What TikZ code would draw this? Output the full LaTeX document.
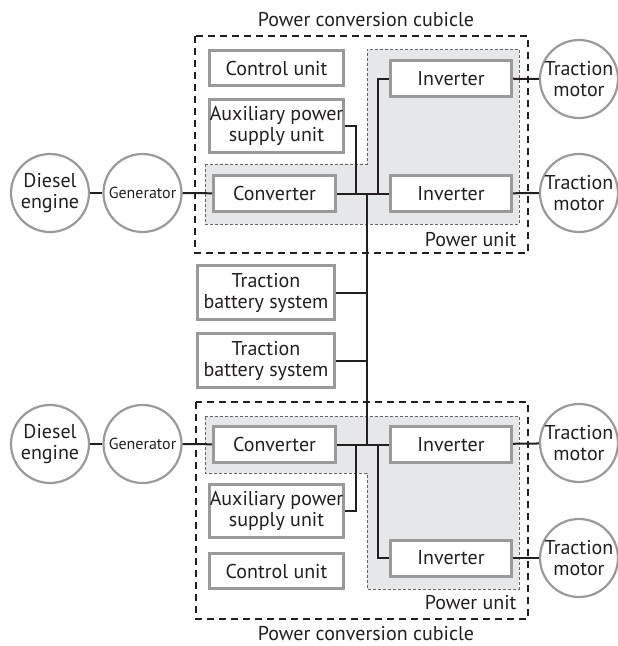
\documentclass[tikz,border=0pt]{standalone}
\usepackage{fontspec}
\setmainfont{PT Sans}
\usetikzlibrary{positioning, calc}

\definecolor{boxgray}{HTML}{9A9A9A}
\definecolor{puFill}{HTML}{E6E7E8}
\definecolor{inkblack}{HTML}{231F20}

\begin{document}
\begin{tikzpicture}[
			x=1pt, y=-1pt,
			font=\fontsize{20}{23}\selectfont,
			text=inkblack,
			% Define styles for the blocks
			unit/.style={
				draw=boxgray,
				fill=white,
				line width=3pt,
				minimum width=122pt,
				minimum height=36pt,
				inner sep=0pt,
				align=center
			},
			wideunit/.style={
				unit,
				minimum width=134pt
			},
			machine/.style={
				circle,
				draw=boxgray,
				fill=white,
				line width=2.2pt,
				minimum size=78pt,
				inner sep=0pt,
				align=center
			},
			wire/.style={
				inkblack,
				line width=2pt
			},
			cubicle/.style={
				draw=inkblack,
				line width=2.2pt,
				dash pattern=on 7pt off 5pt
			},
			powerunit/.style={
				draw=gray!80!black,
				fill=puFill,
				line width=0.9pt,
				dash pattern=on 3pt off 2pt
			}
			]
			
			\useasboundingbox (0,0) rectangle (618,646);
			
			% --- 1. UPPER CUBICLE ---
			\draw[cubicle] (195,36) rectangle (528,253);
			\draw[powerunit] (205,164) -- (367,164) -- (367,49) -- (519,49)
			-- (519,224) -- (205,224) -- cycle;
			\node (cubA_text) at (366,20) {Power conversion cubicle};
			\node[anchor=east] (puA_text) at (520,240) {Power unit};
			
			\node[wideunit, minimum height=35pt] (ctrlA) at (276.5,68) {Control unit};
			\node[wideunit, minimum height=53pt] (auxA) at (276.5,126) {Auxiliary power\\[-2pt] supply unit};
			\node[unit] (convA) at (274.5,193.5) {Converter};
			\node[unit, minimum width=121pt] (invA1) at (451,78.5) {Inverter};
			\node[unit, minimum width=121pt] (invA2) at (451,193.5) {Inverter};
			
			\node[machine] (dieselA) at (50,193) {Diesel\\[-2pt] engine};
			\node[machine, font=\fontsize{16}{18}\selectfont] (genA) at (142.5,193) {Generator};
			\node[machine] (motA1) at (579,79) {Traction\\[-2pt] motor};
			\node[machine] (motA2) at (579,193) {Traction\\[-2pt] motor};
			
			% bus taps
			\coordinate (auxtapA) at (356,193.5);
			\coordinate (busA) at (367,193.5);
			\coordinate (forkA) at (378,193.5);
			
			\draw[wire] (dieselA) -- (genA);
			\draw[wire] (genA) -- (convA);
			\draw[wire] (convA) -- (invA2);
			\draw[wire] (auxA.east) -| (auxtapA);
			\draw[wire] (forkA) |- (invA1.west);
			\draw[wire] (invA1) -- (motA1);
			\draw[wire] (invA2) -- (motA2);
			
			% --- 2. TRACTION BATTERIES ---
			\node[unit, minimum width=137pt, minimum height=54pt] (batt1) at (266,292.5) {Traction\\[-2pt] battery system};
			\node[unit, minimum width=137pt, minimum height=54pt] (batt2) at (266,360.5) {Traction\\[-2pt] battery system};
			
			% --- 3. LOWER CUBICLE ---
			\draw[cubicle] (196,402) rectangle (528,619);
			\draw[powerunit] (205,416) -- (519,416) -- (519,589) -- (367,589)
			-- (367,473) -- (205,473) -- cycle;
			\node (cubB_text) at (366,634) {Power conversion cubicle};
			\node[anchor=east] (puB_text) at (520,603) {Power unit};
			
			\node[unit] (convB) at (274.5,444.5) {Converter};
			\node[unit, minimum width=121pt] (invB1) at (451,444.5) {Inverter};
			\node[unit, minimum width=121pt] (invB2) at (451,558) {Inverter};
			\node[wideunit, minimum height=53pt] (auxB) at (276.5,511) {Auxiliary power\\[-2pt] supply unit};
			\node[wideunit, minimum height=35pt] (ctrlB) at (276.5,571) {Control unit};
			
			\node[machine] (dieselB) at (50,444) {Diesel\\[-2pt] engine};
			\node[machine, font=\fontsize{16}{18}\selectfont] (genB) at (142.5,444) {Generator};
			\node[machine] (motB1) at (579,443) {Traction\\[-2pt] motor};
			\node[machine] (motB2) at (579,558) {Traction\\[-2pt] motor};
			
			\coordinate (auxtapB) at (356,444.5);
			\coordinate (busB) at (367,444.5);
			\coordinate (forkB) at (378,444.5);
			
			\draw[wire] (dieselB) -- (genB);
			\draw[wire] (genB) -- (convB);
			\draw[wire] (convB) -- (invB1);
			\draw[wire] (auxB.east) -| (auxtapB);
			\draw[wire] (forkB) |- (invB2.west);
			\draw[wire] (invB1) -- (motB1);
			\draw[wire] (invB2) -- (motB2);
			
			% DC link between both cubicles, batteries hang on it
			\draw[wire] (busA) -- (busB);
			\draw[wire] (batt1.east) -- (batt1.east -| busA);
			\draw[wire] (batt2.east) -- (batt2.east -| busA);
			
		\end{tikzpicture}
\end{document}
